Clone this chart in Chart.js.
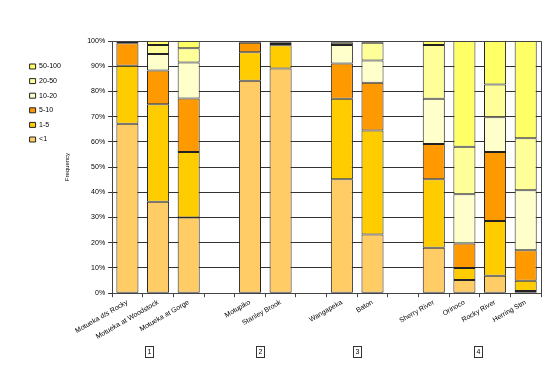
<!DOCTYPE html>
<html>
<head>
<meta charset="utf-8">
<script src="https://cdn.jsdelivr.net/npm/chart.js@4/dist/chart.umd.min.js"></script>
<style>
  html, body { margin: 0; padding: 0; background: #fff; }
  #wrap { width: 550px; height: 368px; position: relative; }
</style>
</head>
<body>
<div id="wrap"><canvas id="freqChart"></canvas></div>
<script>
// sites (blank entries are the gaps between the river groups)
var sites = ["Motueka d/s Rocky", "Motueka at Woodstock", "Motueka at Gorge", "",
  "Motupiko", "Stanley Brook", "", "Wangapeka", "Baton", "",
  "Sherry River", "Orinoco", "Rocky River", "Herring Stm"];

// percent of samples in each class
var lt1     = [67.2, 36.3, 30.0, null, 84.2, 89.1, null, 45.2, 23.3, null, 18.0,  5.2,  6.9,  0.9];
var c1to5   = [23.0, 38.6, 26.0, null, 11.3,  9.2, null, 31.9, 41.2, null, 27.2,  4.8, 21.7,  4.0];
var c5to10  = [ 8.9, 13.4, 21.2, null,  3.8,  0.5, null, 14.0, 18.9, null, 14.0,  9.7, 27.4, 12.1];
var c10to20 = [ 0.5,  6.5, 14.3, null,  0.4,  0.5, null,  7.3,  8.9, null, 17.9, 19.5, 13.8, 23.8];
var c20to50 = [ 0.2,  3.6,  5.6, null,  0.2,  0.4, null,  0.9,  7.0, null, 21.3, 18.9, 13.0, 20.6];
var c50to100= [ 0.2,  1.6,  2.9, null,  0.1,  0.3, null,  0.7,  0.7, null,  1.6, 41.9, 17.2, 38.6];

var yTicks = [0, 10, 20, 30, 40, 50, 60, 70, 80, 90, 100];

// group numbers under the axis
var groupNames = ["1", "2", "3", "4"];

var groupBoxes = {
  id: 'groupBoxes',
  afterDraw: function(chart) {
    var ctx = chart.ctx, x = chart.scales.x, a = chart.chartArea;
    // where each group number sits, in category units
    var anchors = [0.7, 4.33, 7.5, 11.45];
    ctx.save();
    // plot frame (right side and top)
    ctx.strokeStyle = '#444';
    ctx.lineWidth = 1;
    ctx.beginPath();
    ctx.moveTo(a.left, a.top + 0.5);
    ctx.lineTo(a.right + 0.5, a.top + 0.5);
    ctx.lineTo(a.right + 0.5, a.bottom);
    ctx.stroke();
    ctx.font = '7px "Liberation Sans", Arial, sans-serif';
    ctx.textAlign = 'center';
    ctx.textBaseline = 'middle';
    ctx.fillStyle = '#000';
    for (var i = 0; i < groupNames.length; i++) {
      var cx = Math.round(x.getPixelForValue(anchors[i]));
      var cy = 352;
      ctx.strokeStyle = '#333';
      ctx.strokeRect(cx - 3.5, cy - 5.5, 8, 11);
      ctx.fillText(groupNames[i], cx + 0.5, cy);
    }
    ctx.restore();
  }
};

var ctx = document.getElementById("freqChart").getContext('2d');
var freqChart = new Chart(ctx, {
  type: 'bar',
  data: {
    labels: sites,
    datasets: [
      { label: "<1",     data: lt1,      backgroundColor: '#FFCC66' },
      { label: "1-5",    data: c1to5,    backgroundColor: '#FFCC00' },
      { label: "5-10",   data: c5to10,   backgroundColor: '#FF9900' },
      { label: "10-20",  data: c10to20,  backgroundColor: '#FFFFCC' },
      { label: "20-50",  data: c20to50,  backgroundColor: '#FFFF99' },
      { label: "50-100", data: c50to100, backgroundColor: '#FFFF66' }
    ]
  },
  options: {
    responsive: true,
    maintainAspectRatio: false,
    animation: false,
    layout: { padding: { left: 22, top: 41, right: 9, bottom: 26 } },
    datasets: {
      bar: {
        borderColor: '#222',
        borderWidth: 1,
        borderSkipped: false,
        categoryPercentage: 1,
        barPercentage: 0.72
      }
    },
    plugins: {
      tooltip: { enabled: false },
      legend: {
        position: 'left',
        align: 'start',
        reverse: true,
        maxWidth: 42,
        title: { display: true, text: '', padding: { top: 6, bottom: 0 }, font: { size: 7 } },
        labels: {
          boxWidth: 6,
          boxHeight: 5,
          padding: 7.6,
          color: '#000',
          font: { size: 7, family: '"Liberation Sans", Arial, sans-serif' }
        }
      }
    },
    scales: {
      x: {
        stacked: true,
        grid: { display: true, offset: true, drawOnChartArea: false, drawTicks: true, tickLength: 4, color: '#444' },
        border: { color: '#444' },
        ticks: {
          autoSkip: false,
          minRotation: 30,
          maxRotation: 30,
          padding: 1,
          color: '#000',
          font: { size: 7, family: '"Liberation Sans", Arial, sans-serif' }
        }
      },
      y: {
        stacked: true,
        min: 0,
        max: 100,
        afterBuildTicks: function(axis) {
          axis.ticks = yTicks.map(function(v) { return { value: v }; });
        },
        grid: { color: '#333', tickLength: 4 },
        border: { color: '#444' },
        title: {
          display: true,
          text: 'Frequency',
          color: '#000',
          padding: { top: 0, bottom: 13 },
          font: { size: 6, family: '"Liberation Sans", Arial, sans-serif' }
        },
        ticks: {
          padding: 3,
          color: '#000',
          callback: function(v) { return v + '%'; },
          font: { size: 7, family: '"Liberation Sans", Arial, sans-serif' }
        }
      }
    }
  },
  plugins: [groupBoxes]
});
</script>
</body>
</html>
